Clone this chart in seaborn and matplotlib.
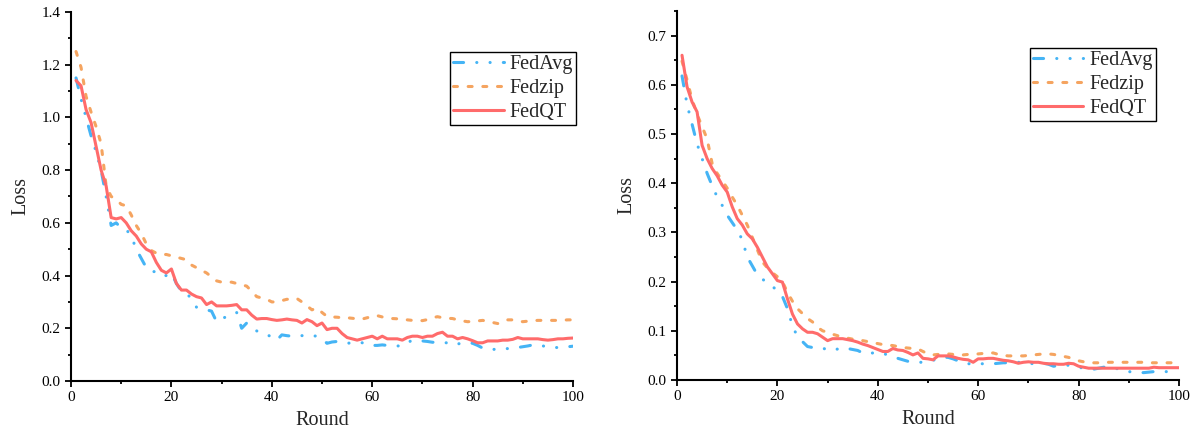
import numpy as np
import pandas as pd
import matplotlib
matplotlib.use("Agg")
import matplotlib.pyplot as plt
from matplotlib.ticker import MultipleLocator
from matplotlib.lines import Line2D
import seaborn as sns

rounds = list(range(1, 101))
methods = ["FedAvg", "Fedzip", "FedQT"]

left_fedavg = [1.15, 1.07, 1.00, 0.93, 0.87, 0.80, 0.70, 0.59, 0.60, 0.58,
               0.575, 0.55, 0.50, 0.465, 0.43, 0.415, 0.415, 0.40, 0.40, 0.41,
               0.37, 0.34, 0.335, 0.31, 0.28, 0.275, 0.27, 0.265, 0.225, 0.235,
               0.245, 0.25, 0.26, 0.20, 0.22, 0.205, 0.19, 0.18, 0.175, 0.168,
               0.155, 0.175, 0.172, 0.17, 0.17, 0.172, 0.175, 0.172, 0.17, 0.16,
               0.143, 0.148, 0.15, 0.147, 0.143, 0.145, 0.147, 0.145, 0.137, 0.135,
               0.135, 0.137, 0.135, 0.135, 0.133, 0.133, 0.145, 0.155, 0.155, 0.152,
               0.15, 0.147, 0.147, 0.145, 0.145, 0.137, 0.14, 0.145, 0.145, 0.143,
               0.135, 0.125, 0.12, 0.12, 0.12, 0.122, 0.123, 0.125, 0.127, 0.13,
               0.133, 0.137, 0.135, 0.133, 0.13, 0.127, 0.127, 0.13, 0.13, 0.132]
left_fedzip = [1.25, 1.19, 1.08, 1.02, 0.965, 0.90, 0.74, 0.70, 0.69, 0.67,
               0.665, 0.63, 0.59, 0.56, 0.52, 0.495, 0.485, 0.48, 0.48, 0.475,
               0.47, 0.465, 0.46, 0.44, 0.43, 0.42, 0.41, 0.395, 0.38, 0.375,
               0.375, 0.375, 0.37, 0.365, 0.36, 0.34, 0.32, 0.315, 0.31, 0.30,
               0.30, 0.305, 0.31, 0.31, 0.313, 0.30, 0.285, 0.27, 0.277, 0.26,
               0.245, 0.243, 0.242, 0.24, 0.24, 0.238, 0.236, 0.235, 0.24, 0.245,
               0.248, 0.243, 0.24, 0.237, 0.236, 0.234, 0.232, 0.23, 0.23, 0.229,
               0.233, 0.24, 0.244, 0.24, 0.238, 0.237, 0.232, 0.228, 0.225, 0.226,
               0.228, 0.23, 0.227, 0.222, 0.218, 0.225, 0.232, 0.232, 0.228, 0.225,
               0.227, 0.229, 0.23, 0.23, 0.23, 0.23, 0.23, 0.231, 0.232, 0.232]
left_fedqt = [1.14, 1.12, 1.03, 0.98, 0.89, 0.80, 0.74, 0.62, 0.615, 0.62,
              0.60, 0.57, 0.55, 0.52, 0.50, 0.49, 0.45, 0.42, 0.41, 0.425,
              0.37, 0.345, 0.345, 0.33, 0.32, 0.315, 0.29, 0.30, 0.285, 0.285,
              0.285, 0.287, 0.29, 0.27, 0.27, 0.25, 0.235, 0.237, 0.237, 0.233,
              0.23, 0.232, 0.235, 0.232, 0.23, 0.22, 0.233, 0.225, 0.21, 0.22,
              0.195, 0.20, 0.20, 0.18, 0.165, 0.16, 0.155, 0.16, 0.165, 0.17,
              0.16, 0.17, 0.16, 0.16, 0.16, 0.155, 0.165, 0.17, 0.17, 0.165,
              0.17, 0.17, 0.18, 0.185, 0.17, 0.17, 0.16, 0.165, 0.16, 0.153,
              0.145, 0.145, 0.152, 0.152, 0.152, 0.155, 0.155, 0.158, 0.165, 0.16,
              0.16, 0.16, 0.16, 0.157, 0.155, 0.157, 0.16, 0.16, 0.162, 0.163]

right_fedavg = [0.618, 0.56, 0.52, 0.48, 0.45, 0.42, 0.395, 0.372, 0.355, 0.335,
                0.32, 0.305, 0.285, 0.25, 0.232, 0.214, 0.205, 0.198, 0.19, 0.182,
                0.17, 0.145, 0.11, 0.088, 0.078, 0.068, 0.066, 0.067, 0.065, 0.061,
                0.06, 0.063, 0.066, 0.064, 0.062, 0.06, 0.055, 0.053, 0.055, 0.056,
                0.054, 0.051, 0.048, 0.044, 0.041, 0.038, 0.037, 0.036, 0.036, 0.038,
                0.04, 0.043, 0.046, 0.046, 0.043, 0.039, 0.035, 0.033, 0.033, 0.033,
                0.033, 0.033, 0.033, 0.034, 0.035, 0.035, 0.036, 0.036, 0.035, 0.034,
                0.033, 0.034, 0.034, 0.032, 0.028, 0.029, 0.03, 0.03, 0.028, 0.026,
                0.024, 0.023, 0.022, 0.024, 0.026, 0.027, 0.025, 0.022, 0.019, 0.017,
                0.016, 0.015, 0.015, 0.016, 0.017, 0.017, 0.017, 0.017, 0.017, 0.017]
right_fedzip = [0.648, 0.61, 0.57, 0.54, 0.515, 0.49, 0.44, 0.42, 0.405, 0.39,
                0.372, 0.355, 0.335, 0.315, 0.29, 0.265, 0.24, 0.228, 0.218, 0.21,
                0.20, 0.178, 0.16, 0.145, 0.135, 0.125, 0.118, 0.107, 0.10, 0.097,
                0.093, 0.09, 0.087, 0.085, 0.083, 0.081, 0.08, 0.078, 0.076, 0.074,
                0.072, 0.071, 0.07, 0.068, 0.066, 0.065, 0.064, 0.063, 0.058, 0.053,
                0.051, 0.052, 0.053, 0.053, 0.052, 0.051, 0.051, 0.052, 0.053, 0.053,
                0.054, 0.055, 0.055, 0.052, 0.05, 0.049, 0.049, 0.049, 0.049, 0.05,
                0.051, 0.052, 0.053, 0.053, 0.052, 0.05, 0.048, 0.046, 0.042, 0.039,
                0.037, 0.036, 0.035, 0.035, 0.035, 0.036, 0.036, 0.036, 0.036, 0.036,
                0.036, 0.036, 0.036, 0.035, 0.035, 0.035, 0.035, 0.035, 0.035, 0.035]
right_fedqt = [0.66, 0.596, 0.565, 0.545, 0.477, 0.45, 0.43, 0.415, 0.396, 0.382,
               0.352, 0.328, 0.315, 0.297, 0.287, 0.27, 0.25, 0.23, 0.216, 0.202,
               0.199, 0.165, 0.134, 0.114, 0.104, 0.097, 0.097, 0.094, 0.087, 0.08,
               0.084, 0.084, 0.084, 0.082, 0.08, 0.077, 0.073, 0.07, 0.066, 0.062,
               0.058, 0.058, 0.064, 0.061, 0.06, 0.056, 0.051, 0.055, 0.044, 0.043,
               0.041, 0.049, 0.049, 0.049, 0.047, 0.044, 0.042, 0.041, 0.036, 0.043,
               0.043, 0.044, 0.044, 0.042, 0.04, 0.039, 0.037, 0.034, 0.036, 0.037,
               0.036, 0.036, 0.034, 0.033, 0.033, 0.032, 0.032, 0.034, 0.033, 0.028,
               0.026, 0.024, 0.024, 0.024, 0.024, 0.024, 0.024, 0.024, 0.024, 0.024,
               0.024, 0.024, 0.024, 0.024, 0.026, 0.025, 0.025, 0.025, 0.025, 0.025]

colors = {"FedAvg": "#45B4F5", "Fedzip": "#F5A460", "FedQT": "#FF6B6B"}
dashes = {"FedAvg": (3.3, 4.3, 0.05, 4.3, 0.05, 4.3), "Fedzip": (1.3, 3.5), "FedQT": ""}

sns.set_style("ticks")
plt.rcParams["font.family"] = ["Liberation Serif", "DejaVu Serif"]
plt.rcParams["lines.dash_capstyle"] = "round"


def make_df(avg, zipv, qt):
    frames = []
    for m, vals in zip(methods, [avg, zipv, qt]):
        frames.append(pd.DataFrame({"Round": rounds, "Loss": vals, "Method": m}))
    return pd.concat(frames, ignore_index=True)


fig = plt.figure(figsize=(11.97, 4.41), dpi=100)
ax1 = fig.add_axes([71 / 1197, 60 / 441, 502 / 1197, 369 / 441])
ax2 = fig.add_axes([677 / 1197, 61 / 441, 502 / 1197, 369 / 441])

panels = [
    (ax1, make_df(left_fedavg, left_fedzip, left_fedqt), 1.4, 0.2, 0.1, "%.1f", (1.006, 0.892)),
    (ax2, make_df(right_fedavg, right_fedzip, right_fedqt), 0.75, 0.1, 0.05, "%.1f", (0.954, 0.90)),
]

for ax, df, ytop, ymaj, ymin, fmt, anchor in panels:
    sns.lineplot(data=df, x="Round", y="Loss", hue="Method", style="Method",
                 palette=colors, dashes=dashes, linewidth=2.2, ax=ax, legend=False)
    for ln in ax.get_lines():
        ln.set_dash_capstyle("round")
    ax.set_xlim(0, 100)
    ax.set_ylim(0, ytop)
    ax.xaxis.set_major_locator(MultipleLocator(20))
    ax.xaxis.set_minor_locator(MultipleLocator(10))
    ax.yaxis.set_major_locator(MultipleLocator(ymaj))
    ax.yaxis.set_minor_locator(MultipleLocator(ymin))
    ax.yaxis.set_major_formatter(matplotlib.ticker.FormatStrFormatter(fmt))
    sns.despine(ax=ax)
    for s in ["left", "bottom"]:
        ax.spines[s].set_linewidth(1.5)
        ax.spines[s].set_color("black")
    ax.tick_params(which="major", direction="out", length=4.5, width=1.3,
                   labelsize=11, colors="black", pad=3)
    ax.tick_params(which="minor", direction="out", length=2.5, width=1.3, colors="black")
    ax.set_xlabel("Round", fontsize=14.5, labelpad=5)
    ax.set_ylabel("Loss", fontsize=14.5, labelpad=8)
    handles = []
    for m in methods:
        h = Line2D([0], [0], color=colors[m], lw=2.2, dash_capstyle="round")
        if dashes[m]:
            h.set_dashes(dashes[m])
        handles.append(h)
    leg = ax.legend(handles, methods, loc="upper right", bbox_to_anchor=anchor,
                    fontsize=14.5, frameon=True, fancybox=False, framealpha=1,
                    edgecolor="black", handlelength=2.5, handletextpad=0.3,
                    labelspacing=0.25, borderpad=0.15, borderaxespad=0)
    leg.get_frame().set_linewidth(1.0)

fig.savefig("out.png", dpi=100)
